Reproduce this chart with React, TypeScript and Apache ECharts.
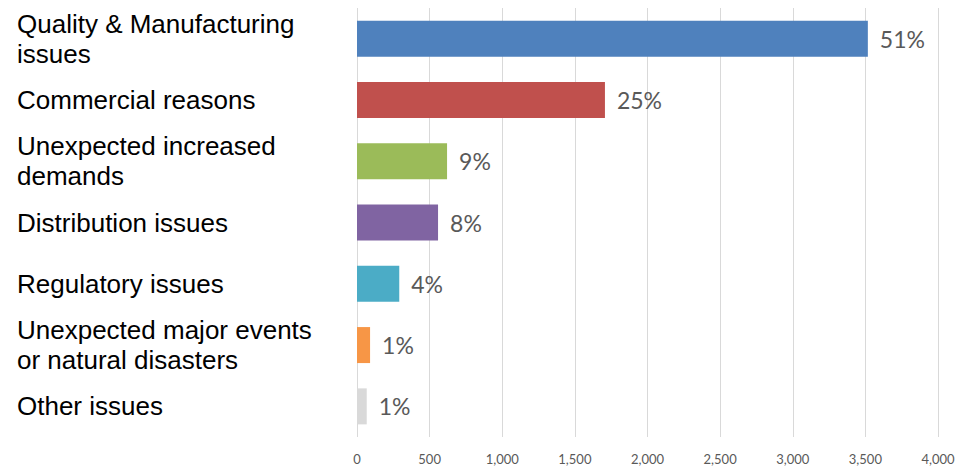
import React, { useEffect, useRef } from "react";
import * as echarts from "echarts";

const categories = [
  "Quality & Manufacturing\nissues",
  "Commercial reasons",
  "Unexpected increased\ndemands",
  "Distribution issues",
  "Regulatory issues",
  "Unexpected major events\nor natural disasters",
  "Other issues",
];
const values = [3517, 1707, 620, 558, 291, 90, 67];
const percentLabels = ["51%", "25%", "9%", "8%", "4%", "1%", "1%"];
const barColors = ["#4F81BD", "#C0504D", "#9BBB59", "#8064A2", "#4BACC6", "#F79646", "#D9D9D9"];
const xTicks = { min: 0, max: 4000, interval: 500 };

export default function App() {
  const ref = useRef<HTMLDivElement>(null);
  useEffect(() => {
    if (!ref.current) return;
    const chart = echarts.init(ref.current, null, { renderer: "svg" });
    chart.setOption({
      animation: false,
      grid: { left: 357, right: 26, top: 8, bottom: 32, containLabel: false },
      xAxis: {
        type: "value",
        min: xTicks.min,
        max: xTicks.max,
        interval: xTicks.interval,
        axisLine: { show: false },
        axisTick: { show: false },
        splitLine: { show: true, lineStyle: { color: "#D9D9D9", width: 1 } },
        axisLabel: {
          color: "#595959",
          fontFamily: "Lato",
          fontSize: 13,
          margin: 15,
          formatter: (v: number) => v.toLocaleString("en-US"),
        },
      },
      yAxis: {
        type: "category",
        data: categories,
        inverse: true,
        axisLine: { show: false },
        axisTick: { show: false },
        axisLabel: {
          align: "left",
          margin: 340,
          color: "#000000",
          fontFamily: "Liberation Sans, Arial, sans-serif",
          fontSize: 26,
          lineHeight: 30,
        },
      },
      series: [
        {
          type: "bar",
          data: values.map((v, i) => ({
            value: v,
            itemStyle: { color: barColors[i] },
          })),
          barWidth: 36,
          label: {
            show: true,
            position: "right",
            distance: 12,
            color: "#595959",
            fontFamily: "Lato",
            fontSize: 23,
            formatter: (p: any) => percentLabels[p.dataIndex],
          },
        },
      ],
    });
    return () => chart.dispose();
  }, []);
  return <div ref={ref} style={{ width: 964, height: 469, position: "absolute", left: 0, top: 0 }} />;
}
